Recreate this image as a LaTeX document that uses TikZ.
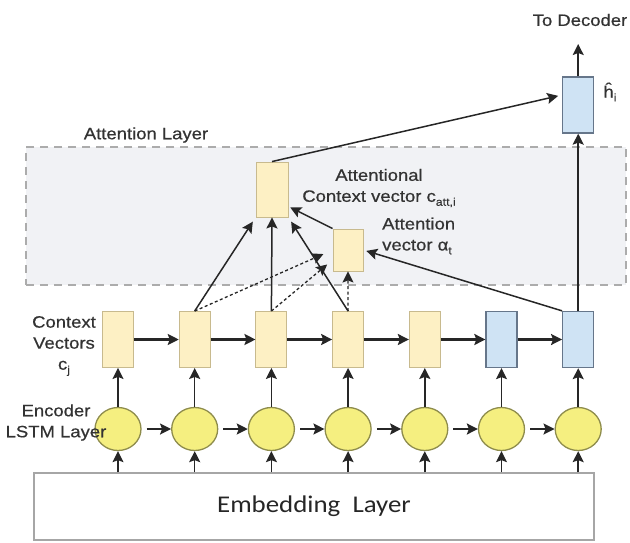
\documentclass[tikz,border=0pt]{standalone}
\usepackage{fontspec}
\setmainfont{Liberation Sans}[FakeStretch=1.12, FakeBold=0.6]
\newfontfamily\embfont{Carlito}[FakeStretch=1.12]
\usetikzlibrary{arrows.meta,shapes.geometric,calc}
\definecolor{yfill}{HTML}{FDF0C4}
\definecolor{ydraw}{HTML}{C8BA8E}
\definecolor{bfill}{HTML}{CFE3F4}
\definecolor{bdraw}{HTML}{66768A}
\definecolor{cfill}{HTML}{F5EF80}
\definecolor{cdraw}{HTML}{8E8C4C}
\definecolor{lfill}{HTML}{F1F2F5}
\definecolor{txt}{HTML}{333333}
\definecolor{ln}{HTML}{262626}
\newcommand{\sbs}[1]{\raisebox{-0.45ex}{\fontsize{11}{11}\selectfont #1}}
\begin{document}
\begin{tikzpicture}[x=1pt,y=1pt,
  ybox/.style={draw=ydraw, fill=yfill, line width=0.9pt, minimum width=31pt, minimum height=56pt, inner sep=0pt},
  bbox/.style={ybox, draw=bdraw, fill=bfill, line width=1.3pt},
  cell/.style={ellipse, draw=cdraw, fill=cfill, line width=1.3pt, minimum width=46pt, minimum height=43pt, inner sep=0pt},
  arr/.style={-{Stealth[length=11pt,width=11pt,inset=2pt]}, line width=1.5pt, draw=ln},
  harr/.style={arr, line width=2.2pt},
  darr/.style={arr, line width=1.3pt, dash pattern=on 3pt off 2.5pt},
  lbl/.style={text=txt, font=\fontsize{16.5}{21}\selectfont, inner sep=0pt, align=center},
]
\useasboundingbox (0,0) rectangle (630,-542);

% attention layer region
\node[draw=gray!65, fill=lfill, line width=1.5pt, dash pattern=on 8pt off 6pt,
      minimum width=600pt, minimum height=138pt, inner sep=0pt] (attlayer) at (326,-216) {};
\node[lbl] (attlbl) at (146,-135) {Attention Layer};

% context vectors
\node[ybox] (c1) at (118,-339.5) {};
\node[ybox] (c2) at (194.7,-339.5) {};
\node[ybox] (c3) at (271.4,-339.5) {};
\node[ybox] (c4) at (348.1,-339.5) {};
\node[ybox] (c5) at (424.8,-339.5) {};
\node[bbox] (c6) at (501.5,-339.5) {};
\node[bbox] (c7) at (578.2,-339.5) {};

% encoder cells
\node[cell] (l1) at (118,-429) {};
\node[cell] (l2) at (194.7,-429) {};
\node[cell] (l3) at (271.4,-429) {};
\node[cell] (l4) at (348.1,-429) {};
\node[cell] (l5) at (424.8,-429) {};
\node[cell] (l6) at (501.5,-429) {};
\node[cell] (l7) at (578.2,-429) {};

% embedding
\node[draw=gray!70, fill=white, line width=1.3pt, minimum width=560pt, minimum height=67pt, inner sep=0pt,
      font=\embfont\fontsize{24}{26}\selectfont, text=black!85] (emb) at (314,-506.5) {Embedding\ \ Layer};

% attention boxes
\node[ybox, minimum width=32pt, minimum height=55pt] (att) at (272,-189.5) {};
\node[ybox, minimum width=30pt, minimum height=42pt] (av) at (348,-250) {};
\node[bbox] (h) at (578.2,-105) {};

% labels
\node[lbl] (todec) at (580,-20) {To Decoder};
\coordinate (decin) at (578.2,-44);
\node[lbl] (hlab) at (610,-92) {ĥ\sbs{i}};
\node[lbl] (attctx) at (379,-188) {Attentional\\Context vector c\sbs{att,i}};
\node[lbl, align=left, anchor=west] (avlbl) at (382,-236) {Attention\\vector α\sbs{t}};

% horizontal arrows
\foreach \a/\b in {c1/c2,c2/c3,c3/c4,c4/c5,c5/c6,c6/c7}
  \draw[harr] (\a.east) -- (\b.west);
\foreach \a/\b in {l1/l2,l2/l3,l3/l4,l4/l5,l5/l6,l6/l7}
  \draw[harr, line width=2pt, shorten <=5pt] (\a.east) -- (\b.west);
% vertical arrows
\foreach \i in {1,...,7} {
  \draw[arr] (l\i.north) -- (c\i.south);
  \draw[arr] (l\i |- emb.north) -- (l\i.south);
}

% attention arrows
\draw[arr, shorten >=5pt] (c2.north) -- (att.south west);
\draw[arr] (c3.north) -- (att.south);
\draw[arr, shorten >=5pt] (c4.north) -- (att.south east);
\draw[arr, shorten >=2pt] (av.north west) -- ([yshift=-17pt]att.east);
\draw[arr, shorten >=3pt] (c7.north west) -- (av.east);
\draw[darr, shorten >=10pt] (c2.north) -- (av.west);
\draw[darr, shorten >=7pt] (c3.north) -- ([yshift=-10pt]av.west);
\draw[darr] (c4.north) -- (av.south);
\draw[arr, shorten >=4pt] (att.north) -- ([yshift=10pt]h.west);
\draw[arr] (c7.north) -- (h.south);
\draw[arr] (h.north) -- (decin);

% side labels (drawn over the cells)
\node[lbl] (ctxlbl) at (64,-346) {Context\\Vectors\\c\sbs{j}};
\node[lbl] (enclbl) at (56,-422.5) {Encoder\\LSTM Layer};
\end{tikzpicture}
\end{document}
